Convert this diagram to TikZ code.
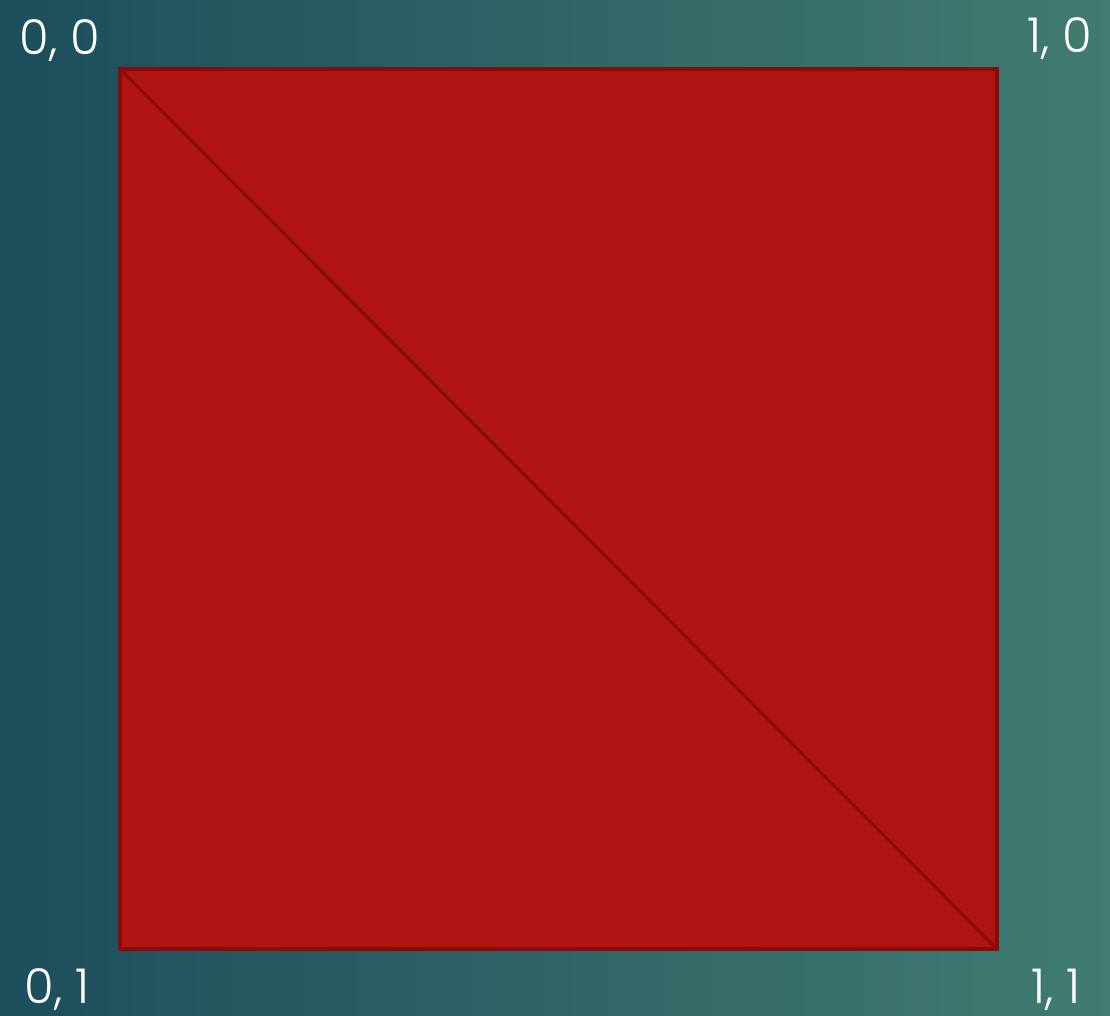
\documentclass[tikz,border=0pt]{standalone}
\usepackage{fontspec}
\setmainfont{Poppins}[UprightFont=* Light]
\usepackage{tikz}
\definecolor{bgleft}{RGB}{28,78,92}
\definecolor{bgright}{RGB}{64,124,112}
\definecolor{sqfill}{RGB}{176,21,18}
\definecolor{sqline}{RGB}{135,12,10}

\begin{document}
\begin{tikzpicture}[
  x=0.75pt, y=-0.75pt,
  corner/.style={text=white, inner sep=0pt, anchor=base,
                 font=\fontsize{36}{42}\selectfont},
  edge/.style={draw=sqline, line width=3pt, line join=miter},
]
% background
\shade[left color=bgleft, right color=bgright] (0,0) rectangle (1110,1015);
\useasboundingbox (0,0) rectangle (1110,1015);

% square corners
\coordinate (tl) at (120,69);
\coordinate (tr) at (997,69);
\coordinate (br) at (997,949);
\coordinate (bl) at (120,949);

\fill[sqfill] (tl) rectangle (br);
\draw[edge, line width=2.2pt] (tl) -- (br);
\draw[edge] (tl) rectangle (br);

% labels
\node[corner] (l00) at (60,54)    {0, 0};
\node[corner] (l10) at (1060,52)  {1, 0};
\node[corner] (l01) at (57,1003)  {0, 1};
\node[corner] (l11) at (1056,1003) {1, 1};
\end{tikzpicture}
\end{document}
